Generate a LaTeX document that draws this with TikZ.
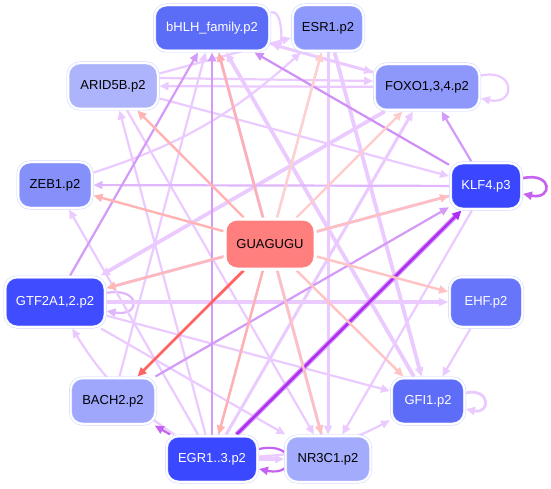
\documentclass[tikz,border=0pt]{standalone}
\usepackage{fontspec}
\setmainfont{Liberation Sans}
\usetikzlibrary{arrows.meta,backgrounds}
\definecolor{nodeln}{HTML}{CDD2FF}
\definecolor{cbh}{HTML}{5B6CF7}
\definecolor{ces}{HTML}{8E9AFB}
\definecolor{car}{HTML}{ADB4FC}
\definecolor{cze}{HTML}{8590FB}
\definecolor{cfo}{HTML}{8E98FA}
\definecolor{ckl}{HTML}{3A47FF}
\definecolor{cgt}{HTML}{3F4CFF}
\definecolor{ceh}{HTML}{6675F9}
\definecolor{cba}{HTML}{9EA7FC}
\definecolor{cgf}{HTML}{5E6DF8}
\definecolor{ceg}{HTML}{3A48FF}
\definecolor{cnr}{HTML}{A3ABFC}
\definecolor{cgu}{HTML}{FF7F7F}
\definecolor{lavA}{HTML}{EBCBFF}
\definecolor{lavB}{HTML}{E0B6FC}
\definecolor{lavC}{HTML}{D49AF7}
\definecolor{lavD}{HTML}{CF8FF5}
\definecolor{purA}{HTML}{C463F2}
\definecolor{purB}{HTML}{B02EF0}
\definecolor{redA}{HTML}{FF6262}
\begin{document}
\begin{tikzpicture}[x=1pt,y=-1pt,
  tf/.style={rounded corners=12pt, minimum height=46pt, inner sep=0pt,
    draw=nodeln, double=white, double distance=2pt, line width=0.5pt,
    outer sep=1.5pt, font=\fontsize{13}{15}\selectfont},
  ed/.style={draw=lavA, line width=2.2pt, -{Triangle[length=9pt,width=8pt]}},
  thk/.style={line width=3.8pt},
  gue/.style={line width=2.4pt, -{Triangle[length=9pt,width=8pt]}}]
\useasboundingbox (0,0) rectangle (551,489);
\node[tf, fill=cbh, text=white, minimum width=115pt] (bh) at (212,28) {bHLH\_family.p2};
\node[tf, fill=ces, minimum width=71pt] (es) at (328,28) {ESR1.p2};
\node[tf, fill=car, minimum width=90pt] (ar) at (113,86) {ARID5B.p2};
\node[tf, fill=cfo, minimum width=105pt] (fo) at (427,87) {FOXO1,3,4.p2};
\node[tf, fill=cze, minimum width=74pt] (ze) at (55,185) {ZEB1.p2};
\node[tf, fill=ckl, text=white, minimum width=71pt] (kl) at (486,186) {KLF4.p3};
\node[tf, fill=cgt, text=white, minimum width=100pt, minimum height=50pt] (gt) at (55,302) {GTF2A1,2.p2};
\node[tf, fill=ceh, text=white, minimum width=73pt, minimum height=50pt] (eh) at (486,302) {EHF.p2};
\node[tf, fill=cba, minimum width=85pt] (ba) at (113,401) {BACH2.p2};
\node[tf, fill=cgf, text=white, minimum width=73pt] (gf) at (428,401) {GFI1.p2};
\node[tf, fill=ceg, text=white, minimum width=91pt] (eg) at (212,459) {EGR1..3.p2};
\node[tf, fill=cnr, minimum width=85pt] (nr) at (328,459) {NR3C1.p2};
\node[tf, fill=cgu, minimum width=90pt, minimum height=50pt, draw=white] (gu) at (270,244) {GUAGUGU};
\begin{pgfonlayer}{background}
% lavender edges
\draw[ed] (bh) to[out=15,in=-15] (bh);
\draw[ed] (fo) to[out=12,in=-12,looseness=4] (fo);
\draw[ed, draw=purA, line width=2.6pt] (kl) to[out=12,in=-12,looseness=5] (kl);
\draw[ed, line width=2.8pt] (gf) to[out=12,in=-12,looseness=4] (gf);
\draw[ed, draw=purA] (eg) to[out=12,in=-12,looseness=5] (eg);
\draw[ed, draw=lavB] (gt) to[out=10,in=-10,looseness=5] (gt);
\draw[ed, thk] (gt) -- (eh);
\draw[ed, thk] (fo) -- (gt);
\draw[ed, line width=3pt] (kl) -- (gt);
\draw[ed, thk] (eg) -- (nr);
\draw[ed] (fo) -- (ar);
\draw[ed] ([yshift=8pt]ar.east) -- ([yshift=6pt]fo.west);
\draw[ed] (ar) -- (es);
\draw[ed] (eh) -- (gf);
\draw[ed] (kl) -- (nr);
\draw[ed, thk] (es) -- (gf);
\draw[ed, thk] (gf) -- (bh);
\draw[ed, line width=3pt] (nr) -- (bh);
\draw[ed] (gt) -- (gf);
\draw[ed] (eg) to[bend right=12] (gf);
\draw[ed] (ar) -- (kl);
\draw[ed] (eg) to[bend left=12] (gt);
\draw[ed, line width=3pt] (es) -- (nr);
\draw[ed] (ze) to[bend right=12] (es);
\draw[ed] (bh) -- (fo);
\draw[ed, line width=3pt] (fo) -- (bh);
\draw[ed] (ar) -- (nr);
\draw[ed] (eg) -- (es);
\draw[ed, line width=3pt] (eg) -- (fo);
\draw[ed] (gt) -- (nr);
\draw[ed] (ba) -- (bh);
\draw[ed] (eg) -- (ze);
\draw[ed] (eg) -- (ar);
\draw[ed, draw=lavB] (kl) -- (ze);
\draw[ed, draw=lavC] (eg) -- (bh);
\draw[ed, draw=lavC] (gt) -- (bh);
\draw[ed, draw=lavC] (kl) -- (fo);
\draw[ed, draw=lavD] (kl) -- (bh);
\draw[ed, draw=lavC] (ba) -- (kl);
\draw[ed, draw=purA] (eg) -- (ba);
\draw[ed, draw=lavC, line width=5pt] (eg) -- (kl);
\draw[ed, draw=purB, line width=2.6pt] (eg) -- (kl);
% GUAGUGU edges
\draw[gue, draw=redA, line width=2.8pt] (gu) -- (ba);
\draw[gue, draw={rgb,255:red,255;green,175;blue,175}] (gu) -- (bh);
\draw[gue, draw={rgb,255:red,255;green,179;blue,179}] (gu) -- (ar);
\draw[gue, draw={rgb,255:red,255;green,179;blue,179}] (gu) -- (ze);
\draw[gue, draw={rgb,255:red,255;green,184;blue,184}] (gu) -- (gt);
\draw[gue, draw={rgb,255:red,255;green,176;blue,176}] (gu) -- (eg);
\draw[gue, draw={rgb,255:red,255;green,192;blue,192}] (gu) -- (nr);
\draw[gue, draw={rgb,255:red,255;green,195;blue,195}] (gu) -- (gf);
\draw[gue, draw={rgb,255:red,255;green,195;blue,195}] (gu) -- (eh);
\draw[gue, draw={rgb,255:red,255;green,191;blue,191}] (gu) -- (kl);
\draw[gue, draw={rgb,255:red,255;green,204;blue,204}] (gu) -- (fo);
\draw[gue, draw={rgb,255:red,255;green,208;blue,208}] (gu) -- (es);
\end{pgfonlayer}
\end{tikzpicture}
\end{document}
